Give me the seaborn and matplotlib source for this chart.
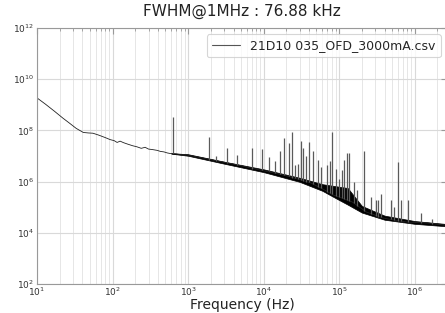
import numpy as np
import pandas as pd
import matplotlib
matplotlib.use("Agg")
import matplotlib.pyplot as plt
import seaborn as sns
from matplotlib.ticker import LogLocator, NullFormatter, NullLocator, LogFormatterSciNotation

# ---- data (levels given as log10 of the PSD) ----
base_f = [10, 13, 17, 22, 27, 33, 41, 48, 55, 65, 80, 93, 105, 115, 126, 140, 160,
          185, 210, 240, 270, 300, 340, 390, 430, 480, 530, 575, 630, 700, 800, 1000,
          1500, 2200, 3300, 5000, 9000, 1.8e4, 3e4, 4.2e4, 6e4, 8.3e4, 1e5, 1.5e5,
          2.3e5, 3.8e5, 6e5, 8e5, 1.5e6, 2.5e6]
base_log = [9.27, 9.02, 8.75, 8.48, 8.28, 8.08, 7.92, 7.90, 7.89, 7.82, 7.72, 7.64,
            7.60, 7.53, 7.58, 7.52, 7.46, 7.40, 7.36, 7.30, 7.34, 7.27, 7.25, 7.22,
            7.18, 7.16, 7.12, 7.10, 7.09, 7.08, 7.05, 7.03, 6.93, 6.83, 6.73, 6.62,
            6.45, 6.26, 6.08, 5.95, 5.72, 5.48, 5.40, 5.20, 4.81, 4.58, 4.47, 4.42,
            4.38, 4.30]

band_f = [600, 1e3, 3e3, 1e4, 3e4, 6e4, 1e5, 1.3e5, 2e5, 4e5, 1e6, 2.5e6]
band_lo_log = [7.09, 7.01, 6.70, 6.37, 5.99, 5.64, 5.28, 5.10, 4.79, 4.51, 4.35, 4.26]
band_hi_log = [7.11, 7.07, 6.78, 6.48, 6.15, 5.90, 5.80, 5.75, 5.05, 4.67, 4.46, 4.35]

spike_f = [630, 1900, 2340, 3300, 4500, 7100, 9500, 1.17e4, 1.4e4, 1.66e4, 1.86e4,
           2.14e4, 2.4e4, 2.63e4, 2.88e4, 3.16e4, 3.3e4, 3.63e4, 3.98e4, 4.47e4,
           5.25e4, 5.75e4, 6.9e4, 7.6e4, 8.1e4, 9.1e4, 1.0e5, 1.1e5, 1.17e5, 1.26e5,
           1.35e5, 1.58e5, 1.7e5, 2.14e5, 2.63e5, 3.1e5, 3.3e5, 3.6e5, 4.8e5, 5.4e5,
           6.0e5, 6.6e5, 8.1e5, 1.23e6, 1.7e6]
spike_top_log = [8.52, 7.74, 7.00, 7.31, 7.04, 7.31, 7.27, 6.96, 6.80, 7.20, 7.70,
                 7.50, 7.94, 6.65, 6.70, 7.59, 7.30, 7.00, 7.55, 7.20, 6.84, 6.57,
                 6.63, 6.80, 7.94, 6.50, 6.10, 6.45, 6.84, 7.12, 7.10, 6.00, 5.67,
                 7.20, 5.40, 5.30, 5.30, 5.50, 5.30, 5.00, 6.77, 5.30, 5.30, 4.77, 4.55]
spike_base_log = [7.11, 6.86, 6.80, 6.73, 6.64, 6.51, 6.44, 6.40, 6.33, 6.28, 6.25,
                  6.20, 6.16, 6.13, 6.10, 6.06, 6.04, 6.00, 5.97, 5.91, 5.80, 5.74,
                  5.60, 5.54, 5.50, 5.44, 5.40, 5.35, 5.32, 5.28, 5.25, 5.15, 5.05,
                  4.86, 4.74, 4.66, 4.63, 4.60, 4.52, 4.49, 4.47, 4.45, 4.42, 4.39, 4.36]

title = "FWHM@1MHz : 76.88 kHz"
series_name = "21D10 035_OFD_3000mA.csv"
xlabel = "Frequency (Hz)"

df = pd.DataFrame({"f": base_f, "psd": np.power(10.0, base_log)})

# ---- figure ----
sns.set_style("white")
plt.rcParams['font.family'] = ['DejaVu Sans']
fig = plt.figure(figsize=(4.45, 3.13), dpi=100)
ax = fig.add_axes([37 / 445, 1 - 284 / 313, 410 / 445, (284 - 28) / 313])

sns.lineplot(data=df, x="f", y="psd", ax=ax, color="#222222", lw=0.6,
             label=series_name)
ax.fill_between(band_f, np.power(10.0, band_lo_log), np.power(10.0, band_hi_log),
                color="black", lw=0.5, edgecolor="black")
ax.vlines(spike_f, np.power(10.0, spike_base_log), np.power(10.0, spike_top_log),
          color="#5a5a5a", lw=0.9)

ax.set_xscale("log")
ax.set_yscale("log")
ax.set_xlim(10, 2.68e6)
ax.set_ylim(1e2, 1e12)
ax.set_yticks([1e2, 1e4, 1e6, 1e8, 1e10, 1e12])
ax.yaxis.set_major_formatter(LogFormatterSciNotation())
ax.yaxis.set_minor_locator(NullLocator())
ax.xaxis.set_major_locator(LogLocator(base=10, numticks=20))
ax.xaxis.set_minor_locator(LogLocator(base=10, subs=np.arange(2, 10), numticks=20))
ax.xaxis.set_minor_formatter(NullFormatter())

ax.grid(True, which="major", color="#d9d9d9", lw=0.8)
ax.grid(True, which="minor", axis="x", color="#e6e6e6", lw=0.7)
ax.set_axisbelow(True)

for s in ax.spines.values():
    s.set_color("#999999")
    s.set_linewidth(0.8)
ax.tick_params(which="both", direction="in", top=True, right=True,
               colors="#999999", labelcolor="#333333", labelsize=6.5)
ax.tick_params(which="major", length=4)
ax.tick_params(which="minor", length=2)
ax.tick_params(axis="x", which="major", pad=1)
ax.tick_params(axis="y", which="major", pad=2)

ax.set_xlabel(xlabel, fontsize=10, color="#222222", labelpad=0)
ax.set_ylabel("")
ax.set_title(title, fontsize=11, color="#222222", pad=8.5)

leg = ax.legend(loc="upper right", fontsize=9, frameon=True, handlelength=2.3,
                borderaxespad=0.5)
leg.get_frame().set_edgecolor("#cccccc")
leg.get_frame().set_linewidth(0.8)
for h in leg.get_lines():
    h.set_color("#555555")
    h.set_linewidth(0.8)

fig.savefig("out.png", dpi=100)
